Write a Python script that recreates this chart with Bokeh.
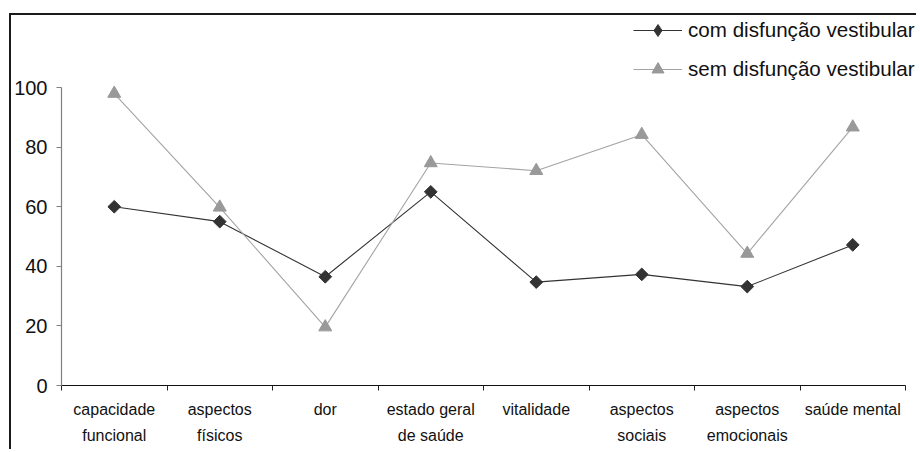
from bokeh.plotting import figure
from bokeh.models import FixedTicker, Legend, LegendItem, Range1d
from bokeh.embed import file_html
from bokeh.resources import INLINE
import numpy as np

categories = ["capacidade\nfuncional", "aspectos\nfísicos", "dor", "estado geral\nde saúde",
              "vitalidade", "aspectos\nsociais", "aspectos\nemocionais", "saúde mental"]
com_disfuncao = [60, 55, 36.5, 65, 34.7, 37.3, 33.2, 47.2]
sem_disfuncao = [98, 59.8, 19.6, 74.7, 72.1, 84.2, 44.3, 86.7]
y_ticks = [0, 20, 40, 60, 80, 100]
series_names = ["com disfunção vestibular", "sem disfunção vestibular"]

n = len(categories)
xs = [i + 0.5 for i in range(n)]
# the frame is extended above 100 and right of the last category to hold the legend;
# the axis lines stop at the data limits
y_top = 124.2
x_right = n * 1.0154

p = figure(width=907, height=436, x_range=Range1d(0, x_right), y_range=Range1d(0, y_top),
           output_backend="svg", toolbar_location=None,
           min_border_left=50, min_border_right=0, min_border_top=0, min_border_bottom=66)
p.margin = (13, 0, 0, 9)
p.styles = {"border-left": "2px solid #1a1a1a", "border-top": "2px solid #1a1a1a"}
p.outline_line_color = None
p.grid.visible = False
p.background_fill_color = "white"
p.border_fill_color = "white"

FONT = "Liberation Sans"

# x axis
xa = p.xaxis[0]
xa.bounds = (0, n)
xa.ticker = FixedTicker(ticks=xs, minor_ticks=list(range(n + 1)))
xa.major_label_overrides = {x: c for x, c in zip(xs, categories)}
xa.major_tick_out = 0
xa.major_tick_in = 0
xa.minor_tick_out = 5
xa.minor_tick_in = 0
xa.minor_tick_line_color = "#222222"
xa.axis_line_color = "#111111"
xa.axis_line_width = 1.2
xa.major_label_text_font = FONT
xa.major_label_text_font_size = "16px"
xa.major_label_text_color = "#111111"
xa.major_label_text_line_height = 1.55
xa.major_label_standoff = 10

# y axis
ya = p.yaxis[0]
ya.ticker = FixedTicker(ticks=y_ticks)
ya.bounds = (0, 100)
ya.minor_tick_out = 0
ya.minor_tick_in = 0
ya.major_tick_in = 0
ya.major_tick_out = 5
ya.major_tick_line_color = "#808080"
ya.axis_line_color = "#808080"
ya.axis_line_width = 1.2
ya.major_label_text_font = FONT
ya.major_label_text_font_size = "20px"
ya.major_label_text_color = "#111111"
ya.major_label_standoff = 9

l1 = p.line(xs, com_disfuncao, line_color="#333333", line_width=1.1)
# legend sample marker (an upright diamond); hidden under the rotated squares in the plot
k1 = p.scatter(xs, com_disfuncao, marker="diamond", size=7,
               fill_color="#333333", line_color="#333333")
m1 = p.scatter(xs, com_disfuncao, marker="square", angle=np.pi / 4, size=9,
               fill_color="#333333", line_color="#333333")
l2 = p.line(xs, sem_disfuncao, line_color="#a3a3a3", line_width=1.1)
m2 = p.scatter(xs, sem_disfuncao, marker="triangle", size=13,
               fill_color="#999999", line_color="#999999")

legend = Legend(items=[LegendItem(label=series_names[0], renderers=[l1, k1]),
                       LegendItem(label=series_names[1], renderers=[l2, m2])],
                location=(572, 301))
legend.glyph_width = 49
legend.glyph_height = 30
legend.label_height = 20
legend.spacing = 9
legend.label_standoff = 6
legend.padding = 0
legend.margin = 0
legend.border_line_color = None
legend.background_fill_alpha = 0
legend.label_text_font = FONT
legend.label_text_font_size = "20.6px"
legend.label_text_color = "#111111"
p.add_layout(legend, "center")

open("out.html", "w").write(file_html(p, INLINE))
